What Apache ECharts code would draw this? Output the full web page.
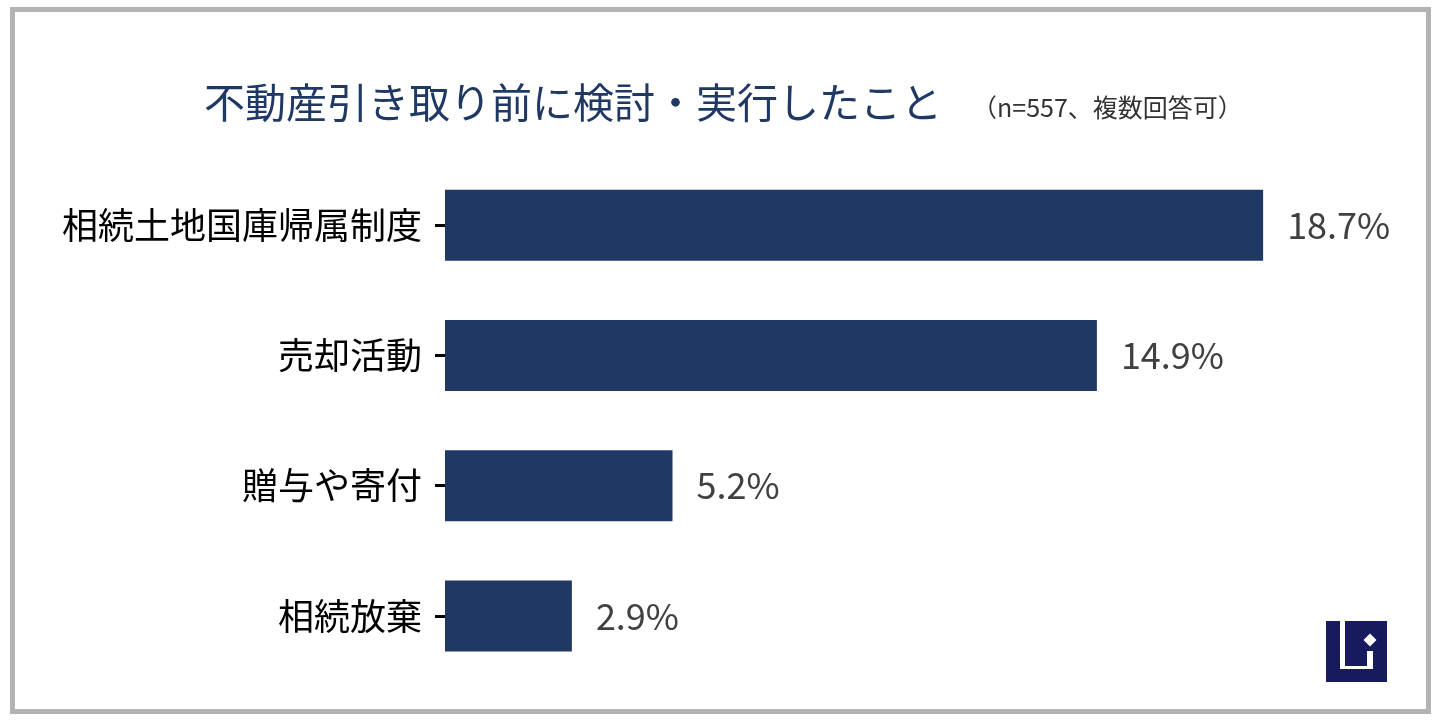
<!DOCTYPE html>
<html>
<head>
<meta charset="utf-8">
<script src="https://cdn.jsdelivr.net/npm/echarts@6/dist/echarts.min.js"></script>
<style>
html,body{margin:0;padding:0;background:#fff;}
#c{width:1440px;height:720px;}
</style>
</head>
<body>
<div id="c"></div>
<script>
const categories = ['相続土地国庫帰属制度', '売却活動', '贈与や寄付', '相続放棄'];
const values = [18.7, 14.9, 5.2, 2.9];
const titleText = '不動産引き取り前に検討・実行したこと';
const subtitleText = '（n=557、複数回答可）';

const FONT = '"Noto Sans CJK JP", "Noto Sans", sans-serif';
const chart = echarts.init(document.getElementById('c'));
chart.setOption({
  backgroundColor: '#ffffff',
  animation: false,
  textStyle: { fontFamily: FONT },
  title: [
    { text: titleText, left: 204, top: 81, padding: 0,
      textStyle: { fontFamily: FONT, fontSize: 41, fontWeight: 'normal', color: '#203864', lineHeight: 43 } },
    { text: subtitleText, left: 972, top: 94, padding: 0,
      textStyle: { fontFamily: FONT, fontSize: 25, fontWeight: 'normal', color: '#333333', lineHeight: 27 } }
  ],
  grid: { left: 445, width: 875, top: 160, height: 521, containLabel: false },
  xAxis: { type: 'value', min: 0, max: 20, show: false },
  yAxis: {
    type: 'category', data: categories, inverse: true, offset: 2,
    axisLine: { show: false },
    axisTick: { show: true, length: 10, alignWithLabel: true, lineStyle: { color: '#000', width: 3 } },
    axisLabel: { margin: 21, fontSize: 36, color: '#000000', fontFamily: FONT }
  },
  series: [{
    type: 'bar', data: values, barWidth: 71,
    itemStyle: { color: '#203864' },
    label: { show: true, position: 'right', distance: 24, fontSize: 36, color: '#404040', fontFamily: FONT,
      formatter: p => p.value.toFixed(1) + '%' }
  }],
  graphic: [
    { type: 'rect', shape: { x: 12.5, y: 9.5, width: 1416, height: 702 },
      style: { fill: 'none', stroke: '#b3b3b3', lineWidth: 5 }, silent: true },
    { type: 'group', children: [
      { type: 'rect', shape: { x: 1326, y: 621, width: 61, height: 61 }, style: { fill: '#171a5c' } },
      { type: 'rect', shape: { x: 1340, y: 621, width: 5, height: 48 }, style: { fill: '#ffffff' } },
      { type: 'rect', shape: { x: 1340, y: 666, width: 33, height: 3 }, style: { fill: '#ffffff' } },
      { type: 'rect', shape: { x: 1367, y: 651, width: 6, height: 18 }, style: { fill: '#ffffff' } },
      { type: 'polygon', shape: { points: [[1370, 633.5], [1376.5, 640], [1370, 646.5], [1363.5, 640]] }, style: { fill: '#ffffff' } }
    ]}
  ]
});
</script>
</body>
</html>
